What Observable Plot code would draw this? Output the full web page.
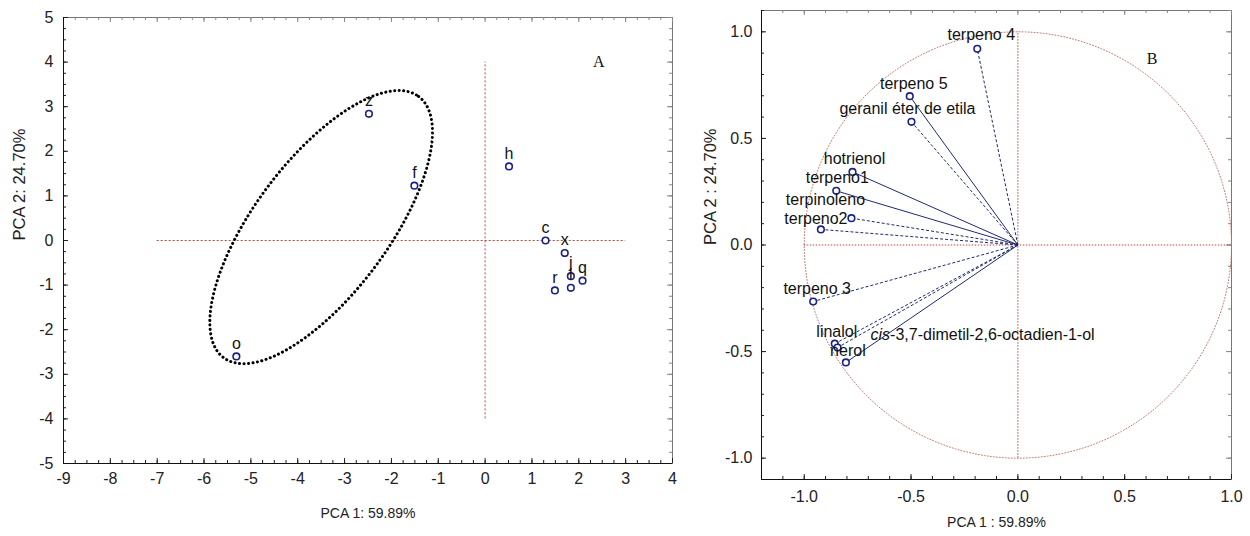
<!DOCTYPE html>
<html>
<head>
<meta charset="utf-8">
<script src="https://cdn.jsdelivr.net/npm/d3@7"></script>
<script src="https://cdn.jsdelivr.net/npm/@observablehq/plot@0.6"></script>
<style>
  html, body { margin: 0; padding: 0; background: #fff; }
  #wrap { position: relative; width: 1250px; height: 536px; overflow: hidden; }
  #wrap svg { position: absolute; top: 0; font-family: "Liberation Sans", Arial, sans-serif; overflow: visible; }
</style>
</head>
<body>
<div id="wrap"></div>
<script>
// ---------- Panel A: PCA scores ----------
const scoreLabels = ["z", "f", "o", "h", "c", "x", "j", "l", "q", "r"];
const scorePC1 = [-2.48, -1.51, -5.31, 0.51, 1.29, 1.70, 1.83, 1.83, 2.08, 1.49];
const scorePC2 = [2.84, 1.23, -2.60, 1.66, 0.00, -0.28, -0.80, -1.06, -0.90, -1.12];
const scoreXTicks = [-9, -8, -7, -6, -5, -4, -3, -2, -1, 0, 1, 2, 3, 4];
const scoreYTicks = [-5, -4, -3, -2, -1, 0, 1, 2, 3, 4, 5];
// ellipse grouping (centre, half major axis vector, half minor axis vector) in data units
const ellipseCenter = [-3.5, 0.3];
const ellipseMajor = [2.08, 2.93];
const ellipseMinor = [1.15, -0.89];

// ---------- Panel B: loadings ----------
const loadingNames = ["terpeno 4", "terpeno 5", "geranil éter de etila", "hotrienol", "terpeno1",
  "terpinoleno", "terpeno2", "terpeno 3", "linalol", "cis-3,7-dimetil-2,6-octadien-1-ol", "nerol"];
const loadingPC1 = [-0.19, -0.506, -0.498, -0.774, -0.85, -0.779, -0.922, -0.958, -0.857, -0.844, -0.805];
const loadingPC2 = [0.92, 0.698, 0.578, 0.343, 0.254, 0.126, 0.073, -0.265, -0.463, -0.481, -0.551];
const loadingTicks = [-1.0, -0.5, 0.0, 0.5, 1.0];

// styling (not data)
const loadingDashed = [true, false, true, false, false, true, true, true, true, true, false];
const loadingLabelOffset = [[4, -14, "middle"], [4, -12, "middle"], [-4, -13, "middle"], [2, -13, "middle"],
  [1, -13, "middle"], [-26, -18, "middle"], [-5, -11, "middle"], [4, -13, "middle"], [2, -12, "middle"],
  [33, -13, "start"], [2, -12, "middle"]];

const FONT = "Liberation Sans, Arial, sans-serif";
const NAVY = "#1c2283";
const LINE = "#1f2a6e";
const RED = "#b84a3e";

const scores = scoreLabels.map((l, i) => ({label: l, pc1: scorePC1[i], pc2: scorePC2[i]}));
const loadings = loadingNames.map((n, i) => ({name: n, pc1: loadingPC1[i], pc2: loadingPC2[i], dashed: loadingDashed[i]}));

function frameTicks(xMajor, xMinor, yMajor, yMinor, iw, ih, color) {
  const M = 5, m = 3;
  return [
    Plot.ruleX(xMinor, {x: d => d, insetTop: ih - m, stroke: color}),
    Plot.ruleX(xMajor, {x: d => d, insetTop: ih - M, stroke: color}),
    Plot.ruleX(xMinor, {x: d => d, insetBottom: ih - m, stroke: "#888"}),
    Plot.ruleX(xMajor, {x: d => d, insetBottom: ih - M, stroke: "#888"}),
    Plot.ruleY(yMinor, {y: d => d, insetRight: iw - m, stroke: color}),
    Plot.ruleY(yMajor, {y: d => d, insetRight: iw - M, stroke: color}),
    Plot.ruleY(yMinor, {y: d => d, insetLeft: iw - m, stroke: "#888"}),
    Plot.ruleY(yMajor, {y: d => d, insetLeft: iw - M, stroke: "#888"})
  ];
}

// ---- left plot ----
const LW = 700, LH = 536, LML = 63, LMR = 28, LMT = 17, LMB = 73;
const liw = LW - LML - LMR, lih = LH - LMT - LMB;
const ellipsePts = d3.range(0, 361, 2).map(a => {
  const t = a * Math.PI / 180;
  return {x: ellipseCenter[0] + Math.cos(t) * ellipseMajor[0] + Math.sin(t) * ellipseMinor[0],
          y: ellipseCenter[1] + Math.cos(t) * ellipseMajor[1] + Math.sin(t) * ellipseMinor[1]};
});
const leftPlot = Plot.plot({
  width: LW, height: LH, marginLeft: LML, marginRight: LMR, marginTop: LMT, marginBottom: LMB,
  style: {fontFamily: FONT, background: "transparent", overflow: "visible"},
  x: {domain: [-9, 4], label: null},
  y: {domain: [-5, 5], label: null},
  marks: [
    Plot.frame({stroke: "#777"}),
    ...frameTicks(scoreXTicks, d3.range(-36, 17).map(i => i / 4), scoreYTicks, d3.range(-20, 21).map(i => i / 4), liw, lih, "#222"),
    Plot.ruleY([-5], {stroke: "#111"}),
    Plot.ruleX([-9], {stroke: "#111"}),
    Plot.ruleY([0], {x1: -7, x2: 3, stroke: RED, strokeDasharray: "2,2"}),
    Plot.ruleX([0], {y1: -4, y2: 4, stroke: RED, strokeDasharray: "2,2"}),
    Plot.line(ellipsePts, {x: "x", y: "y", stroke: "#000", strokeWidth: 3, strokeDasharray: "0.1,4.4", strokeLinecap: "round", curve: "linear-closed"}),
    Plot.dot(scores, {x: "pc1", y: "pc2", r: 3.3, stroke: NAVY, strokeWidth: 1.6, fill: "white"}),
    Plot.text(scores, {x: "pc1", y: "pc2", text: "label", dy: -13, fontSize: 16, fill: "#111"}),
    Plot.axisX({ticks: scoreXTicks, tickSize: 0, tickPadding: 9, fontSize: 16, label: null, tickFormat: d => String(d), fill: "#222"}),
    Plot.axisY({ticks: scoreYTicks, tickSize: 0, tickPadding: 10, fontSize: 16, label: null, tickFormat: d => String(d), fill: "#222"}),
    Plot.text(["PCA 1: 59.89%"], {frameAnchor: "bottom", dy: 54, fontSize: 14, fill: "#222"}),
    Plot.text(["PCA 2: 24.70%"], {frameAnchor: "left", dx: -44, rotate: -90, fontSize: 16.5, fill: "#222"}),
    Plot.text(["A"], {frameAnchor: "top-right", dx: -(LW - LMR - 604), dy: 55 - LMT, fontSize: 16, fontFamily: "Liberation Serif, Times New Roman, serif", fill: "#111"})
  ]
});
leftPlot.style.left = "0px";

// ---- right plot ----
const RW = 550, RH = 536, RML = 61, RMR = 19, RMT = 10, RMB = 57;
const riw = RW - RML - RMR, rih = RH - RMT - RMB;
const circlePts = d3.range(0, 361, 1).map(a => ({x: Math.cos(a * Math.PI / 180), y: Math.sin(a * Math.PI / 180)}));
const labelMarks = loadings.map((d, i) => Plot.text([d], {
  x: "pc1", y: "pc2", text: "name", dx: loadingLabelOffset[i][0], dy: loadingLabelOffset[i][1],
  textAnchor: loadingLabelOffset[i][2], fontSize: 16, fill: "#111"
}));
const rightPlot = Plot.plot({
  width: RW, height: RH, marginLeft: RML, marginRight: RMR, marginTop: RMT, marginBottom: RMB,
  style: {fontFamily: FONT, background: "transparent", overflow: "visible"},
  x: {domain: [-1.2, 1.0], label: null},
  y: {domain: [-1.1, 1.1], label: null},
  marks: [
    Plot.frame({stroke: "#777"}),
    ...frameTicks(loadingTicks, d3.range(-12, 11).map(i => i / 10), loadingTicks, d3.range(-11, 12).map(i => i / 10), riw, rih, "#222"),
    Plot.ruleY([-1.1], {stroke: "#111"}),
    Plot.ruleX([-1.2], {stroke: "#111"}),
    Plot.line(circlePts, {x: "x", y: "y", stroke: "#c07a6c", strokeWidth: 1, strokeDasharray: "1,2"}),
    Plot.ruleY([0], {x1: -1, x2: 1, stroke: RED, strokeDasharray: "1.5,1.5"}),
    Plot.ruleX([0], {y1: -1, y2: 1, stroke: RED, strokeDasharray: "1.5,1.5"}),
    Plot.link(loadings.filter(d => !d.dashed), {x1: 0, y1: 0, x2: "pc1", y2: "pc2", stroke: LINE, strokeWidth: 1}),
    Plot.link(loadings.filter(d => d.dashed), {x1: 0, y1: 0, x2: "pc1", y2: "pc2", stroke: LINE, strokeWidth: 1, strokeDasharray: "3,2"}),
    Plot.dot(loadings, {x: "pc1", y: "pc2", r: 3.3, stroke: NAVY, strokeWidth: 1.6, fill: "white"}),
    ...labelMarks,
    Plot.axisX({ticks: loadingTicks, tickSize: 0, tickPadding: 11, fontSize: 16, label: null, tickFormat: d => d.toFixed(1), fill: "#222"}),
    Plot.axisY({ticks: loadingTicks, tickSize: 0, tickPadding: 9, fontSize: 16, label: null, tickFormat: d => d.toFixed(1), fill: "#222"}),
    Plot.text(["PCA 1 : 59.89%"], {frameAnchor: "bottom", dy: 47, fontSize: 14, fill: "#222"}),
    Plot.text(["PCA 2 : 24.70%"], {frameAnchor: "left", dx: -51, rotate: -90, fontSize: 16.5, fill: "#222"}),
    Plot.text(["B"], {frameAnchor: "top-right", dx: -(1231 - 1157), dy: 52 - RMT, fontSize: 16, fontFamily: "Liberation Serif, Times New Roman, serif", fill: "#111"})
  ]
});
rightPlot.style.left = "700px";

// italicise "cis" prefix while keeping real text
rightPlot.querySelectorAll("text").forEach(t => {
  if (t.textContent === "cis-3,7-dimetil-2,6-octadien-1-ol") {
    t.textContent = "";
    const ns = "http://www.w3.org/2000/svg";
    const a = document.createElementNS(ns, "tspan");
    a.setAttribute("font-style", "italic");
    a.textContent = "cis";
    const b = document.createElementNS(ns, "tspan");
    b.textContent = "-3,7-dimetil-2,6-octadien-1-ol";
    t.appendChild(a); t.appendChild(b);
  }
});

document.getElementById("wrap").append(leftPlot, rightPlot);
</script>
</body>
</html>
